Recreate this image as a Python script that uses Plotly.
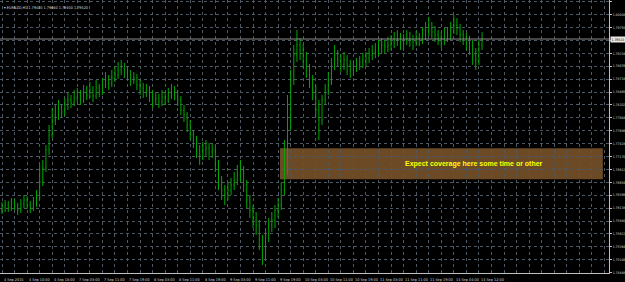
import plotly.graph_objects as go

# ---------------- data (EURNZD, H1) ----------------
opens = [
    1.7610, 1.7616, 1.7620, 1.7614, 1.7624, 1.7618, 1.7610, 1.7622, 1.7630, 1.7620,
    1.7614, 1.7624, 1.7634, 1.7666, 1.7694, 1.7730, 1.7760, 1.7790, 1.7800, 1.7810,
    1.7806, 1.7820, 1.7830, 1.7824, 1.7834, 1.7840, 1.7830, 1.7846, 1.7840, 1.7850,
    1.7838, 1.7854, 1.7846, 1.7860, 1.7870, 1.7862, 1.7874, 1.7880, 1.7890, 1.7894,
    1.7886, 1.7880, 1.7870, 1.7874, 1.7860, 1.7854, 1.7846, 1.7850, 1.7840, 1.7830,
    1.7834, 1.7826, 1.7836, 1.7830, 1.7840, 1.7846, 1.7840, 1.7830, 1.7810, 1.7800,
    1.7780, 1.7760, 1.7750, 1.7730, 1.7720, 1.7730, 1.7734, 1.7726, 1.7730, 1.7700,
    1.7670, 1.7650, 1.7640, 1.7650, 1.7660, 1.7670, 1.7680, 1.7690, 1.7660, 1.7630,
    1.7610, 1.7590, 1.7580, 1.7550, 1.7530, 1.7560, 1.7580, 1.7590, 1.7610, 1.7620,
    1.7650, 1.7690, 1.7790, 1.7870, 1.7920, 1.7940, 1.7930, 1.7910, 1.7890, 1.7870,
    1.7850, 1.7810, 1.7790, 1.7830, 1.7850, 1.7870, 1.7900, 1.7920, 1.7910, 1.7900,
    1.7910, 1.7900, 1.7890, 1.7894, 1.7900, 1.7906, 1.7910, 1.7914, 1.7920, 1.7926,
    1.7930, 1.7934, 1.7940, 1.7936, 1.7940, 1.7946, 1.7950, 1.7954, 1.7946, 1.7950,
    1.7954, 1.7950, 1.7946, 1.7954, 1.7950, 1.7960, 1.7970, 1.7974, 1.7966, 1.7960,
    1.7954, 1.7950, 1.7958, 1.7960, 1.7970, 1.7980, 1.7974, 1.7960, 1.7954, 1.7946,
    1.7940, 1.7920, 1.7910, 1.7940,
]
highs = [
    1.7626, 1.7630, 1.7628, 1.7634, 1.7632, 1.7624, 1.7632, 1.7640, 1.7638, 1.7628,
    1.7636, 1.7650, 1.7700, 1.7710, 1.7740, 1.7780, 1.7814, 1.7820, 1.7830, 1.7822,
    1.7834, 1.7846, 1.7840, 1.7850, 1.7854, 1.7850, 1.7860, 1.7858, 1.7866, 1.7858,
    1.7870, 1.7862, 1.7874, 1.7886, 1.7880, 1.7890, 1.7898, 1.7906, 1.7910, 1.7904,
    1.7898, 1.7890, 1.7886, 1.7882, 1.7870, 1.7864, 1.7862, 1.7858, 1.7850, 1.7846,
    1.7842, 1.7850, 1.7846, 1.7854, 1.7862, 1.7858, 1.7850, 1.7838, 1.7820, 1.7806,
    1.7790, 1.7770, 1.7758, 1.7740, 1.7746, 1.7750, 1.7744, 1.7742, 1.7738, 1.7710,
    1.7678, 1.7660, 1.7664, 1.7674, 1.7686, 1.7700, 1.7710, 1.7698, 1.7670, 1.7640,
    1.7620, 1.7606, 1.7590, 1.7560, 1.7574, 1.7594, 1.7606, 1.7620, 1.7634, 1.7666,
    1.7750, 1.7840, 1.7890, 1.7940, 1.7970, 1.7954, 1.7942, 1.7926, 1.7902, 1.7880,
    1.7860, 1.7830, 1.7840, 1.7862, 1.7886, 1.7914, 1.7940, 1.7930, 1.7922, 1.7926,
    1.7920, 1.7910, 1.7906, 1.7914, 1.7918, 1.7924, 1.7926, 1.7934, 1.7940, 1.7944,
    1.7950, 1.7954, 1.7950, 1.7956, 1.7960, 1.7966, 1.7970, 1.7964, 1.7962, 1.7970,
    1.7966, 1.7960, 1.7968, 1.7964, 1.7976, 1.7986, 1.7996, 1.7986, 1.7978, 1.7970,
    1.7966, 1.7974, 1.7976, 1.7986, 1.8000, 1.7994, 1.7982, 1.7970, 1.7964, 1.7958,
    1.7950, 1.7934, 1.7950, 1.7966,
]
lows = [
    1.7602, 1.7606, 1.7606, 1.7608, 1.7610, 1.7600, 1.7604, 1.7614, 1.7612, 1.7604,
    1.7608, 1.7616, 1.7630, 1.7658, 1.7686, 1.7720, 1.7754, 1.7780, 1.7790, 1.7794,
    1.7798, 1.7810, 1.7814, 1.7818, 1.7826, 1.7820, 1.7824, 1.7830, 1.7834, 1.7826,
    1.7832, 1.7836, 1.7840, 1.7854, 1.7850, 1.7856, 1.7866, 1.7872, 1.7880, 1.7874,
    1.7870, 1.7858, 1.7862, 1.7850, 1.7840, 1.7834, 1.7836, 1.7826, 1.7814, 1.7820,
    1.7814, 1.7818, 1.7820, 1.7824, 1.7832, 1.7830, 1.7818, 1.7800, 1.7786, 1.7766,
    1.7750, 1.7734, 1.7714, 1.7700, 1.7710, 1.7718, 1.7710, 1.7714, 1.7686, 1.7650,
    1.7630, 1.7620, 1.7630, 1.7640, 1.7650, 1.7660, 1.7666, 1.7646, 1.7614, 1.7594,
    1.7574, 1.7560, 1.7530, 1.7500, 1.7514, 1.7546, 1.7566, 1.7574, 1.7594, 1.7610,
    1.7640, 1.7680, 1.7770, 1.7860, 1.7906, 1.7910, 1.7894, 1.7874, 1.7854, 1.7830,
    1.7794, 1.7750, 1.7780, 1.7820, 1.7840, 1.7860, 1.7890, 1.7898, 1.7886, 1.7890,
    1.7880, 1.7874, 1.7878, 1.7886, 1.7890, 1.7894, 1.7898, 1.7904, 1.7910, 1.7914,
    1.7918, 1.7922, 1.7924, 1.7926, 1.7930, 1.7934, 1.7938, 1.7930, 1.7934, 1.7940,
    1.7936, 1.7930, 1.7938, 1.7938, 1.7942, 1.7950, 1.7958, 1.7954, 1.7946, 1.7940,
    1.7934, 1.7940, 1.7946, 1.7950, 1.7962, 1.7960, 1.7946, 1.7940, 1.7930, 1.7920,
    1.7900, 1.7890, 1.7900, 1.7930,
]
closes = [
    1.7616, 1.7620, 1.7614, 1.7624, 1.7618, 1.7610, 1.7622, 1.7630, 1.7620, 1.7614,
    1.7624, 1.7634, 1.7666, 1.7694, 1.7730, 1.7760, 1.7790, 1.7800, 1.7810, 1.7806,
    1.7820, 1.7830, 1.7824, 1.7834, 1.7840, 1.7830, 1.7846, 1.7840, 1.7850, 1.7838,
    1.7854, 1.7846, 1.7860, 1.7870, 1.7862, 1.7874, 1.7880, 1.7890, 1.7894, 1.7886,
    1.7880, 1.7870, 1.7874, 1.7860, 1.7854, 1.7846, 1.7850, 1.7840, 1.7830, 1.7834,
    1.7826, 1.7836, 1.7830, 1.7840, 1.7846, 1.7840, 1.7830, 1.7810, 1.7800, 1.7780,
    1.7760, 1.7750, 1.7730, 1.7720, 1.7730, 1.7734, 1.7726, 1.7730, 1.7700, 1.7670,
    1.7650, 1.7640, 1.7650, 1.7660, 1.7670, 1.7680, 1.7690, 1.7660, 1.7630, 1.7610,
    1.7590, 1.7580, 1.7550, 1.7530, 1.7560, 1.7580, 1.7590, 1.7610, 1.7620, 1.7650,
    1.7690, 1.7790, 1.7870, 1.7920, 1.7940, 1.7930, 1.7910, 1.7890, 1.7870, 1.7850,
    1.7810, 1.7790, 1.7830, 1.7850, 1.7870, 1.7900, 1.7920, 1.7910, 1.7900, 1.7910,
    1.7900, 1.7890, 1.7894, 1.7900, 1.7906, 1.7910, 1.7914, 1.7920, 1.7926, 1.7930,
    1.7934, 1.7940, 1.7936, 1.7940, 1.7946, 1.7950, 1.7954, 1.7946, 1.7950, 1.7954,
    1.7950, 1.7946, 1.7954, 1.7950, 1.7960, 1.7970, 1.7974, 1.7966, 1.7960, 1.7954,
    1.7950, 1.7958, 1.7960, 1.7970, 1.7980, 1.7974, 1.7960, 1.7954, 1.7946, 1.7940,
    1.7920, 1.7910, 1.7940, 1.7952,
]

time_labels = [
    "4 Sep 2015", "4 Sep 10:00", "4 Sep 18:00", "7 Sep 03:00", "7 Sep 11:00",
    "7 Sep 19:00", "8 Sep 03:00", "8 Sep 11:00", "8 Sep 19:00", "9 Sep 03:00",
    "9 Sep 11:00", "9 Sep 19:00", "10 Sep 03:00", "10 Sep 11:00", "10 Sep 19:00",
    "11 Sep 03:00", "11 Sep 11:00", "11 Sep 19:00", "14 Sep 04:00", "14 Sep 12:00",
]
label_every = 8  # bars between time labels

price_ticks = [
    1.80266, 1.80008, 1.79750, 1.79492, 1.79234, 1.78976, 1.78718, 1.78460,
    1.78202, 1.77944, 1.77686, 1.77428, 1.77170, 1.76912, 1.76654, 1.76396,
    1.76138, 1.75880, 1.75622, 1.75364, 1.75106, 1.74848,
]

symbol = "EURNZD,H1"
zone_text = "Expect coverage here some time or other"
zone_bar_start, zone_bar_end = 88.6, 191.5
zone_low, zone_high = 1.76714, 1.77334

# ---------------- figure ----------------
x = list(range(len(closes)))
GREEN = "#00a800"
GRID = "#4e5862"
AXIS = "#bfbfbf"
SMALL = dict(family="DejaVu Sans Condensed", size=3.8, color="#d4d4d4")
TINY = dict(family="DejaVu Sans Condensed", size=3.4, color="#d4d4d4")

fig = go.Figure()
fig.add_trace(go.Ohlc(
    x=x, open=opens, high=highs, low=lows, close=closes,
    increasing=dict(line=dict(color=GREEN, width=1)),
    decreasing=dict(line=dict(color=GREEN, width=1)),
    tickwidth=0.2, hoverinfo="skip", showlegend=False,
))

# zone rectangle
fig.add_shape(type="rect", x0=zone_bar_start, x1=zone_bar_end, y0=zone_low, y1=zone_high,
              xref="x", yref="y", fillcolor="#6c4a25", line=dict(width=0), layer="below")
fig.add_annotation(x=zone_bar_start + 39.2, y=(zone_low + zone_high) / 2, xref="x", yref="y",
                   text=zone_text, showarrow=False, xanchor="left", yanchor="middle",
                   font=dict(family="Liberation Sans", size=7, color="#ffff00", weight="bold"))

# current price line + label
last = closes[-1]
fig.add_shape(type="line", x0=0, x1=1, xref="paper", y0=last, y1=last, yref="y",
              line=dict(color="#8c8c8c", width=1))
fig.add_annotation(x=1, xref="paper", xanchor="left", xshift=1, y=last, yref="y",
                   text=f"{last:.5f}", showarrow=False, bgcolor="#e8e8e8",
                   font=dict(TINY, color="#000000"), borderpad=0.5)

# time labels
for k, lab in enumerate(time_labels):
    fig.add_annotation(x=k * label_every - 0.1, y=0, xref="x", yref="paper", yanchor="top",
                       xanchor="left", yshift=-2, text=lab, showarrow=False, font=SMALL)

# title
fig.add_annotation(x=0, y=1, xref="paper", yref="paper", xanchor="left", yanchor="top",
                   xshift=2, yshift=-3, showarrow=False,
                   text=f"▾ {symbol} {opens[-1]:.5f} {highs[-1]:.5f} {lows[-1]:.5f} {closes[-1]:.5f}",
                   font=dict(SMALL, color="#d8d8d8"))

# tick labels hidden behind the current-price box
tick_text = ["" if abs(v - last) < 0.0012 else f"{v:.5f}" for v in price_ticks]

fig.update_layout(
    width=625, height=282,
    margin=dict(l=0, r=16, t=0, b=9, autoexpand=False),
    paper_bgcolor="#000000", plot_bgcolor="#000000",
    showlegend=False,
    xaxis=dict(range=[-0.64, 193.46], rangeslider=dict(visible=False), showticklabels=False,
               showgrid=True, gridcolor=GRID, griddash="dot", gridwidth=1, dtick=4, tick0=0,
               zeroline=False, showline=True, linecolor=AXIS, linewidth=1, ticks=""),
    yaxis=dict(range=[1.7484, 1.8030], side="right", tickvals=price_ticks,
               ticktext=tick_text, showgrid=True, gridcolor=GRID,
               griddash="dot", gridwidth=1, zeroline=False, showline=True, linecolor=AXIS,
               linewidth=1, ticks="outside", ticklen=2, tickcolor=AXIS, tickfont=TINY),
)

fig.write_html("out.html")
